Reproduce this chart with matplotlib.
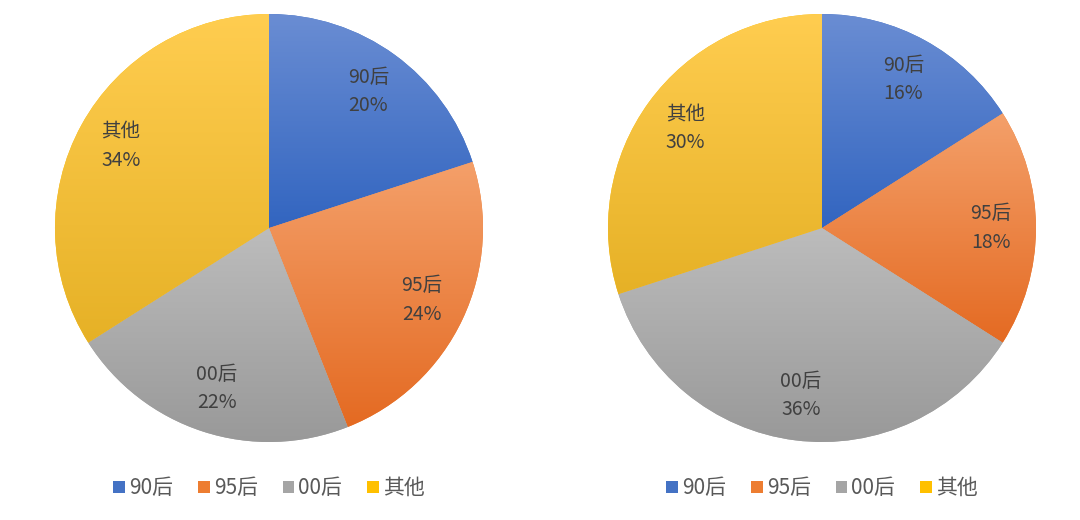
import numpy as np
import matplotlib
matplotlib.use('Agg')
import matplotlib.pyplot as plt
from matplotlib.colors import LinearSegmentedColormap
from matplotlib.patches import Patch

plt.rcParams['font.family'] = ['Noto Sans CJK SC', 'DejaVu Sans']

# data
labels = ['90后', '95后', '00后', '其他']
left_values = [20, 24, 22, 34]
right_values = [16, 18, 36, 30]

# Excel-style gradient colours per slice (top, bottom) and legend colours
grad_top = ['#6a8dd3', '#f4a06a', '#bcbcbc', '#ffcd50']
grad_bottom = ['#3265c0', '#e46a22', '#999999', '#e6b126']
legend_colors = ['#4472c4', '#ed7d31', '#a5a5a5', '#ffc000']

W, H = 1080, 520
fig = plt.figure(figsize=(W / 100, H / 100), dpi=100)
fig.patch.set_facecolor('white')


def draw_pie(cx, cy, r, values):
    ax = fig.add_axes([(cx - r) / W, (H - cy - r) / H, 2 * r / W, 2 * r / H])
    wedges, texts, autotexts = ax.pie(
        values, startangle=90, counterclock=False, radius=1,
        colors=legend_colors, autopct='%1.0f%%', pctdistance=0.79,
        wedgeprops=dict(edgecolor='none', linewidth=0),
        textprops=dict(fontsize=14, color='#404040'))
    # vertical gradient fill, clipped to each slice
    for i, w in enumerate(wedges):
        ext = w.get_path().get_extents(w.get_patch_transform())
        cmap = LinearSegmentedColormap.from_list('g%d' % i, [grad_bottom[i], grad_top[i]])
        grad = np.linspace(0, 1, 256).reshape(-1, 1)
        im = ax.imshow(grad, cmap=cmap, origin='lower', aspect='auto',
                       extent=(ext.x0, ext.x1, ext.y0, ext.y1), zorder=w.get_zorder() + 0.1)
        im.set_clip_path(w)
    for lab, t in zip(labels, autotexts):
        t.set_text(lab + '\n' + t.get_text())
        t.set_linespacing(1.45)
        t.set_zorder(5)
    ax.set_xlim(-1, 1)
    ax.set_ylim(-1, 1)
    ax.set_aspect('equal')
    ax.axis('off')
    handles = [Patch(facecolor=c, edgecolor='none') for c in legend_colors]
    ax.legend(handles, labels, loc='center', bbox_to_anchor=(0.5, -0.108), ncol=4,
              frameon=False, handlelength=0.55, handleheight=0.55, handletextpad=0.2,
              columnspacing=1.2, prop=dict(size=15), labelcolor='#595959')
    return ax


draw_pie(269, 228, 214, left_values)
draw_pie(822, 228, 214, right_values)

fig.savefig('out.png', dpi=100, facecolor='white')
